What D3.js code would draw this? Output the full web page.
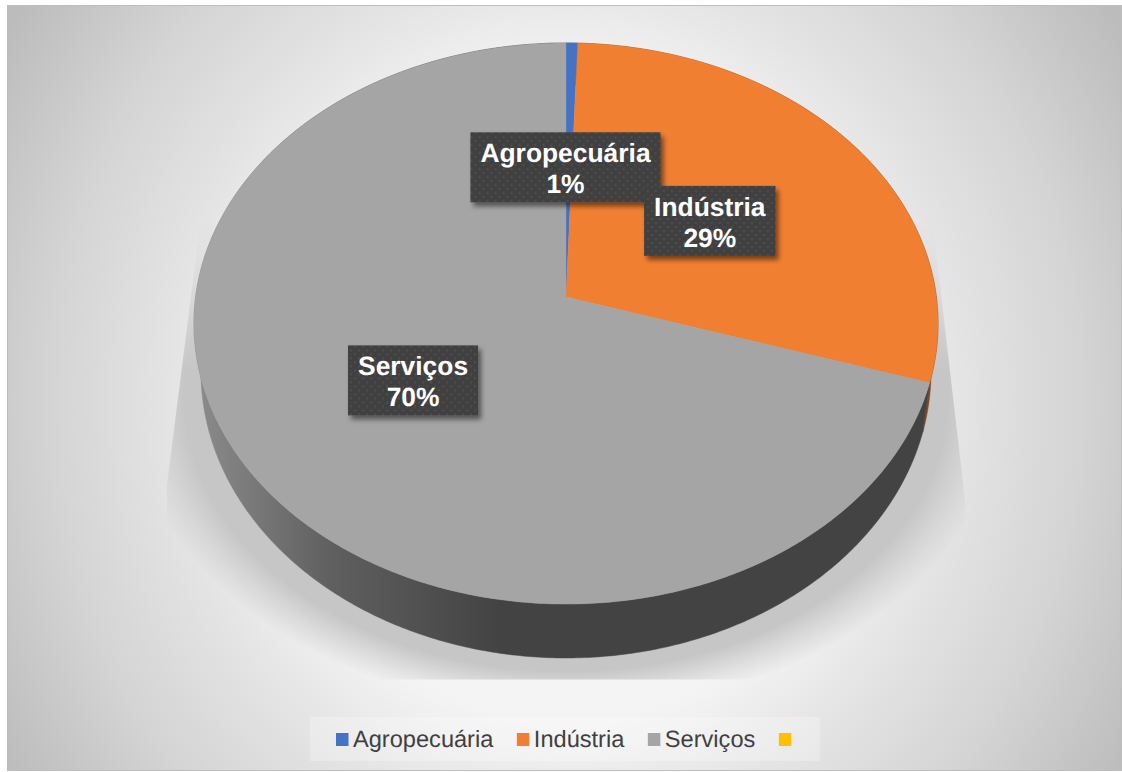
<!DOCTYPE html>
<html lang="pt">
<head>
<meta charset="utf-8">
<script src="https://cdn.jsdelivr.net/npm/d3@7/dist/d3.min.js"></script>
<style>
  html, body { margin: 0; padding: 0; background: #fff; }
  svg { display: block; }
  text { font-family: "Liberation Sans", Arial, sans-serif; text-rendering: geometricPrecision; }
</style>
</head>
<body>
<svg id="chart" width="1122" height="772"></svg>
<script>
// Composição por setor
const categories = ["Agropecuária", "Indústria", "Serviços"];
const shares = [0.0055, 0.293, 0.7015];
const legendNames = ["Agropecuária", "Indústria", "Serviços", ""];
const topColors = ["#4472c4", "#f07f32", "#a5a5a5", "#ffc000"];
const wallColors = ["#25406f", "#84471c", "url(#wallGrey)"];
const labelShift = [-3.5, -0.5, -2.5];

const svg = d3.select("#chart");
const defs = svg.append("defs");

function radial(id, x, y, rx, ry, stops) {
  const g = defs.append("radialGradient").attr("id", id)
    .attr("gradientUnits", "userSpaceOnUse")
    .attr("cx", 0).attr("cy", 0).attr("r", 1)
    .attr("gradientTransform", `translate(${x},${y}) scale(${rx},${ry})`);
  stops.forEach(([o, c, a]) => g.append("stop").attr("offset", o)
    .attr("stop-color", c).attr("stop-opacity", a === undefined ? 1 : a));
}

// Fundo do painel
radial("panelBg", 566, 400, 654, 708.5, [
  [0, "#fdfdfd"], [0.46, "#f3f3f3"], [0.605, "#e4e4e4"], [0.79, "#d4d4d4"], [1, "#bcbcbc"]
]);

// Sombra projetada atrás da pizza
radial("haloFill", 566, 395, 450, 325, [
  [0, "#c6c6c6"], [0.85, "#c6c6c6"], [0.97, "#c6c6c6", 0]
]);
defs.append("clipPath").attr("id", "haloClip").append("path")
  .attr("d", "M200,225L167,485L167,679.5L965,679.5L965,500L933,225Z");
const haloFade = defs.append("linearGradient").attr("id", "haloFade")
  .attr("gradientUnits", "userSpaceOnUse").attr("x1", 0).attr("x2", 0).attr("y1", 225).attr("y2", 370);
haloFade.append("stop").attr("offset", 0).attr("stop-color", "#fff").attr("stop-opacity", 0.1);
haloFade.append("stop").attr("offset", 1).attr("stop-color", "#fff").attr("stop-opacity", 1);
defs.append("mask").attr("id", "haloMask").attr("maskUnits", "userSpaceOnUse")
  .attr("x", 0).attr("y", 0).attr("width", 1122).attr("height", 772)
  .append("rect").attr("width", 1122).attr("height", 772).attr("fill", "url(#haloFade)");

// Degradê da lateral cinza
const wallGrey = defs.append("linearGradient").attr("id", "wallGrey")
  .attr("gradientUnits", "userSpaceOnUse")
  .attr("x1", 195).attr("x2", 500).attr("y1", 0).attr("y2", 0);
wallGrey.append("stop").attr("offset", 0).attr("stop-color", "#8c8c8c");
wallGrey.append("stop").attr("offset", 0.45).attr("stop-color", "#5f5f5f");
wallGrey.append("stop").attr("offset", 1).attr("stop-color", "#434343");

// Textura pontilhada dos rótulos
const dots = defs.append("pattern").attr("id", "labelDots")
  .attr("patternUnits", "userSpaceOnUse").attr("width", 8).attr("height", 8);
dots.append("rect").attr("width", 8).attr("height", 8).attr("fill", "#3f3f3f");
dots.append("rect").attr("x", 1).attr("y", 1).attr("width", 2).attr("height", 2).attr("fill", "#4e4e4e");
dots.append("rect").attr("x", 5).attr("y", 5).attr("width", 2).attr("height", 2).attr("fill", "#4e4e4e");

const shadow = defs.append("filter").attr("id", "labelShadow")
  .attr("x", "-20%").attr("y", "-20%").attr("width", "140%").attr("height", "150%");
shadow.append("feDropShadow").attr("dx", 3).attr("dy", 4).attr("stdDeviation", 2.5)
  .attr("flood-color", "#000").attr("flood-opacity", 0.5);

// Painel
svg.append("rect").attr("x", 7.5).attr("y", 5.5).attr("width", 1114).attr("height", 765)
  .attr("fill", "url(#panelBg)").attr("stroke", "#bdbdbd").attr("stroke-width", 1);

svg.append("g").attr("mask", "url(#haloMask)").attr("clip-path", "url(#haloClip)")
  .append("ellipse").attr("cx", 566).attr("cy", 395).attr("rx", 450).attr("ry", 325)
  .attr("fill", "url(#haloFill)");

// Projeção em perspectiva do disco: tilt é a convergência, b o centro e a a escala vertical
const tilt = -0.0945;
const cx = 566;
const topDisc = { A: 370.4, a: 250, b: 297 };
const baseDisc = { A: 363.4, a: 251.4, b: 344.4 };
function project(disc, angle, r = 1) {
  const u = Math.sin(angle) * r, v = -Math.cos(angle) * r;
  const w = 1 + tilt * v;
  return [cx + disc.A * u / w, (disc.a * v + disc.b) / w];
}
function ring(disc, a0, a1) {
  const n = Math.max(2, Math.ceil(Math.abs(a1 - a0) / 0.01));
  return d3.range(n + 1).map(i => project(disc, a0 + (a1 - a0) * i / n));
}

const arcs = d3.pie().sort(null).value(d => d)(shares);
const line = d3.line();

// Lateral: laranja primeiro, cinza por cima
const wall = svg.append("g");
wall.selectAll("path").data(arcs).join("path")
  .attr("d", d => line(ring(topDisc, d.startAngle, d.endAngle)
    .concat(ring(baseDisc, d.endAngle, d.startAngle))) + "Z")
  .attr("fill", (d, i) => wallColors[i])
  .attr("stroke", (d, i) => wallColors[i])
  .attr("stroke-width", 0.5);

// Face superior
const face = svg.append("g");
face.selectAll("path").data(arcs).join("path")
  .attr("d", d => line([project(topDisc, 0, 0)].concat(ring(topDisc, d.startAngle, d.endAngle))) + "Z")
  .attr("fill", (d, i) => topColors[i])
  .attr("stroke", (d, i) => topColors[i])
  .attr("stroke-width", 0.4);

// Rótulos de dados
const pct = d3.format(".0%");
const labelFont = 26.4;
const labels = svg.append("g");
arcs.forEach((d, i) => {
  const [x, y] = project(topDisc, (d.startAngle + d.endAngle) / 2, 0.49);
  const g = labels.append("g").attr("transform", `translate(${x + labelShift[i]},${y + 0.5})`);
  const box = g.append("rect").attr("fill", "url(#labelDots)").attr("filter", "url(#labelShadow)");
  const t = g.append("text").attr("text-anchor", "middle").attr("fill", "#fff")
    .attr("font-size", labelFont).attr("font-weight", 700);
  t.append("tspan").attr("x", 0).attr("y", -5).text(categories[i]);
  t.append("tspan").attr("x", 0).attr("y", 26).text(pct(shares[i]));
  const w = t.select("tspan").node().getComputedTextLength() + 20;
  box.attr("x", -w / 2).attr("y", -35).attr("width", w).attr("height", 70);
});

// Legenda
svg.append("rect").attr("x", 310).attr("y", 717).attr("width", 510).attr("height", 44)
  .attr("fill", "#ffffff").attr("fill-opacity", 0.25);
const legend = svg.append("g");
let lx = 336;
legendNames.forEach((name, i) => {
  legend.append("rect").attr("x", lx).attr("y", 733).attr("width", 12.5).attr("height", 13)
    .attr("fill", topColors[i]);
  const t = legend.append("text").attr("x", lx + 17).attr("y", 747)
    .attr("font-size", 23.6).attr("fill", "#404040").text(name);
  lx += 17 + t.node().getComputedTextLength() + 23.5;
});
</script>
</body>
</html>
